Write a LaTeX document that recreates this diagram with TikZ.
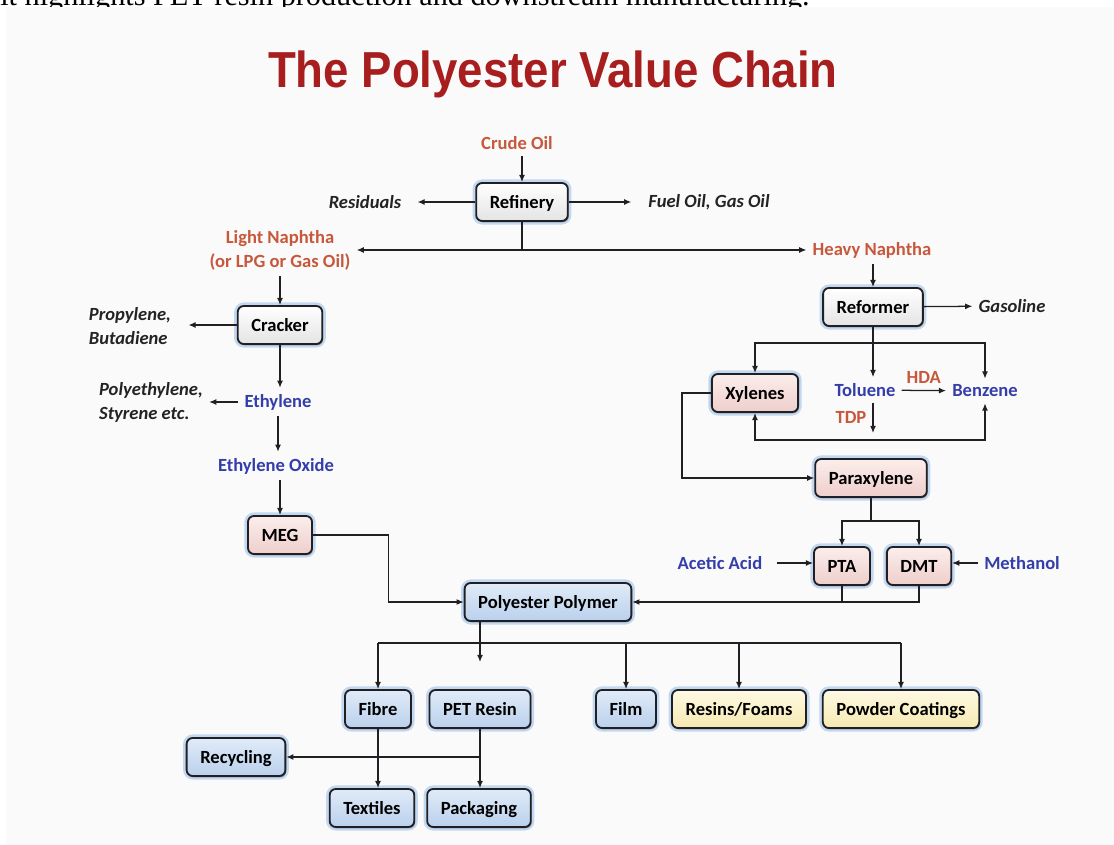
\documentclass[tikz,border=0pt]{standalone}
\usepackage{fontspec}
\setmainfont{Carlito}
\newfontfamily\titlefont[FakeStretch=0.9]{Liberation Sans}
\newfontfamily\captfont{Liberation Serif}
\usetikzlibrary{arrows.meta,calc,shadows}

\definecolor{feedred}{RGB}{200,88,60}
\definecolor{chemblue}{RGB}{52,62,170}
\definecolor{inkgray}{RGB}{35,35,35}
\definecolor{titlered}{RGB}{168,30,30}
\definecolor{boxline}{RGB}{32,32,36}
\definecolor{glowblue}{RGB}{140,182,232}
\definecolor{panel}{RGB}{250,250,250}
\definecolor{blueA}{RGB}{224,235,248}
\definecolor{blueB}{RGB}{186,208,236}
\definecolor{pinkA}{RGB}{251,238,236}
\definecolor{pinkB}{RGB}{238,206,203}
\definecolor{yellA}{RGB}{254,250,228}
\definecolor{yellB}{RGB}{246,233,176}
\definecolor{greyA}{RGB}{255,255,255}
\definecolor{greyB}{RGB}{228,228,228}

\newcommand{\chainfont}{\fontsize{13.2pt}{17pt}\selectfont\bfseries}

\tikzstyle{box} = [rectangle, rounded corners=0.15cm, draw=boxline, line width=1.3pt, minimum height=0.95cm, inner xsep=0.34cm, text height=0.95em, text depth=0em, font=\chainfont, text=black, preaction={draw=glowblue, line width=5pt, opacity=0.5}, drop shadow={shadow xshift=0.6pt, shadow yshift=-0.9pt, fill=black!55, opacity=0.8}]
\tikzstyle{unitbox} = [box, top color=greyA, bottom color=greyB]
\tikzstyle{chembox} = [box, top color=pinkA, bottom color=pinkB]
\tikzstyle{prodbox} = [box, top color=blueA, bottom color=blueB]
\tikzstyle{usebox} = [box, top color=yellA, bottom color=yellB]
\tikzstyle{feed} = [font=\chainfont, text=feedred, inner sep=0.15cm, align=center]
\tikzstyle{chem} = [font=\chainfont, text=chemblue, inner sep=0.15cm]
\tikzstyle{side} = [font={\chainfont\itshape}, text=inkgray, inner sep=0.15cm, align=left]
\tikzstyle{arrow} = [draw=boxline, line width=0.9pt, -{Latex[length=1.8mm,width=1.5mm]}]
\tikzstyle{twoway} = [draw=boxline, line width=0.9pt, {Latex[length=1.8mm,width=1.5mm]}-{Latex[length=1.8mm,width=1.5mm]}]
\tikzstyle{link} = [draw=boxline, line width=0.9pt]

\begin{document}
\begin{tikzpicture}[x=0.025cm, y=-0.025cm]
        \useasboundingbox (0,0) rectangle (1114,845);
        \node (caption) [anchor=base west, inner sep=0, font={\captfont\fontsize{21.5pt}{24pt}\selectfont}] at (0,6) {it highlights PET resin production and downstream manufacturing.};
        \fill [panel] (6,7) rectangle (1114,845);
        \node (title) [anchor=base, inner sep=0, text=titlered, font={\titlefont\bfseries\fontsize{36pt}{40pt}\selectfont}] at (553,88) {The Polyester Value Chain};

        % refinery
        \node (crudeOil) [feed] at (517,143) {Crude Oil};
        \node (refinery) [unitbox] at (522,202) {Refinery};
        \node (residuals) [side] at (365,202) {Residuals};
        \node (fuelOil) [side] at (709,202) {Fuel Oil, Gas Oil};
        \node (lightNaphtha) [feed] at (280,250) {Light Naphtha\\(or LPG or Gas Oil)};
        \node (heavyNaphtha) [feed] at (872,250) {Heavy Naphtha};

        % ethylene side
        \node (cracker) [unitbox] at (280,325) {Cracker};
        \node (propylene) [side] at (130,326) {Propylene,\\Butadiene};
        \node (ethylene) [chem] at (278,402) {Ethylene};
        \node (polyethylene) [side] at (151,402) {Polyethylene,\\Styrene etc.};
        \node (ethyleneOxide) [chem] at (276,466) {Ethylene Oxide};
        \node (meg) [chembox] at (280,535) {MEG};

        % aromatics side
        \node (reformer) [unitbox] at (873,307) {Reformer};
        \node (gasoline) [side] at (1012,306) {Gasoline};
        \node (xylenes) [chembox] at (755,393) {Xylenes};
        \node (toluene) [chem] at (865,390) {Toluene};
        \node (benzene) [chem] at (985,391) {Benzene};
        \node (paraxylene) [chembox] at (871,478) {Paraxylene};
        \node (pta) [chembox] at (842,566) {PTA};
        \node (dmt) [chembox] at (919,566) {DMT};
        \node (aceticAcid) [chem] at (720,563) {Acetic Acid};
        \node (methanol) [chem] at (1022,563) {Methanol};

        % polymer and products
        \node (polyester) [prodbox] at (548,602) {Polyester Polymer};
        \node (fibre) [prodbox] at (378,709) {Fibre};
        \node (petResin) [prodbox] at (480,709) {PET Resin};
        \node (film) [prodbox] at (626,709) {Film};
        \node (resinsFoams) [usebox] at (739,709) {Resins/Foams};
        \node (powder) [usebox] at (901,709) {Powder Coatings};
        \node (recycling) [prodbox] at (236,757) {Recycling};
        \node (textiles) [prodbox] at (372,808) {Textiles};
        \node (packaging) [prodbox] at (479,808) {Packaging};

        \coordinate (aromSplit) at (reformer.south |- 0,343);
        \coordinate (tdpTop) at (reformer.south |- toluene.south);
        \coordinate (tdpEnd) at (reformer.south |- 0,433);
        \coordinate (aromLoop) at (0,440);
        \coordinate (pxSplit) at (paraxylene.south |- 0,521);
        \coordinate (megBend) at ($(meg.east)!0.5!(polyester.west)$);
        \coordinate (polyDrop) at (petResin.north |- 0,662);
        \coordinate (prodBus) at (0,643);

        \path [arrow] (crudeOil.south -| refinery.north) -- (refinery.north);
        \path [arrow, shorten >=0.25cm] (refinery) -- (residuals);
        \path [arrow, shorten >=0.27cm] (refinery) -- (fuelOil);
        \path [arrow] (refinery.south) |- (lightNaphtha.east);
        \path [arrow] (refinery.south) |- (heavyNaphtha.west);
        \path [arrow] (lightNaphtha) -- (cracker);
        \path [arrow, shorten >=0.28cm] (cracker.west) -- (cracker.west -| propylene.east);
        \path [arrow] (cracker.south) -- (cracker.south |- ethylene.north);
        \path [arrow] (ethylene) -- (polyethylene);
        \path [arrow] (ethylene.south) -- (ethylene.south |- ethyleneOxide.north);
        \path [arrow] (ethyleneOxide.south -| meg.north) -- (meg.north);
        \path [arrow] (meg.east) -| (megBend) |- (polyester.west);

        \path [arrow] (heavyNaphtha.south -| reformer.north) -- (reformer.north);
        \path [arrow] (reformer) -- (gasoline);
        \path [arrow] (reformer.south) -- (reformer.south |- toluene.north);
        \path [arrow] (aromSplit) -| (xylenes.north);
        \path [arrow] (aromSplit) -| (benzene.north);
        \path [arrow] (toluene) -- node [feed, above] {HDA} (benzene);
        \path [arrow] (tdpTop) -- node [feed, left] {TDP} (tdpEnd);
        \path [twoway] (xylenes.south) |- (benzene.south |- aromLoop) -- (benzene.south);
        \path [arrow] (xylenes.west) -- ++(-29,0) |- (paraxylene.west);
        \path [link] (paraxylene.south) -- (pxSplit);
        \path [arrow] (pxSplit) -| (pta.north);
        \path [arrow] (pxSplit) -| (dmt.north);
        \path [arrow, shorten <=0.2cm] (aceticAcid.east) -- (aceticAcid.east -| pta.west);
        \path [arrow] (methanol.west) -- (methanol.west -| dmt.east);
        \path [link] (pta.south) -- (pta.south |- polyester.east);
        \path [arrow] (dmt.south) |- (polyester.east);

        \path [arrow] (polyester.south -| petResin.north) -- (polyDrop);
        \path [link] (fibre.north |- prodBus) -- (powder.north |- prodBus);
        \path [arrow] (fibre.north |- prodBus) -- (fibre.north);
        \path [arrow] (film.north |- prodBus) -- (film.north);
        \path [arrow] (resinsFoams.north |- prodBus) -- (resinsFoams.north);
        \path [arrow] (powder.north |- prodBus) -- (powder.north);
        \path [arrow] (fibre.south) -- (fibre.south |- textiles.north);
        \path [arrow] (petResin.south) -- (petResin.south |- packaging.north);
        \path [arrow] (petResin.south |- recycling.east) -- (recycling.east);
    \end{tikzpicture}
\end{document}
